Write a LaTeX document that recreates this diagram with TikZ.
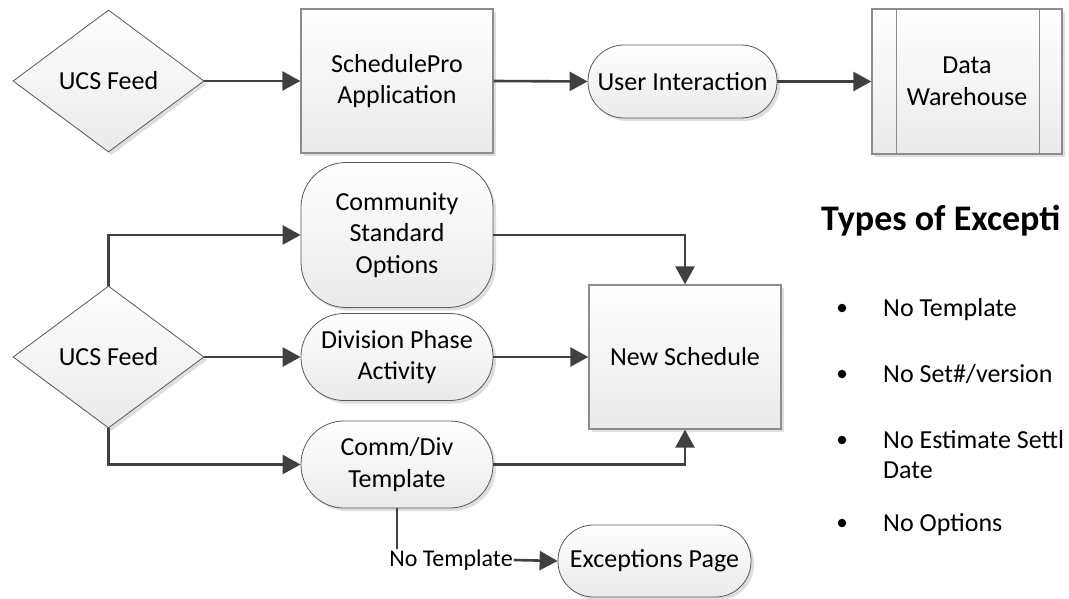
\documentclass[tikz,border=0pt]{standalone}
\usepackage{fontspec}
\setmainfont{Carlito}
\usetikzlibrary{shapes.geometric,arrows.meta,shadows}

\definecolor{linegray}{HTML}{404040}
\definecolor{boxedge}{HTML}{8C8C8C}
\definecolor{termedge}{HTML}{595959}
\definecolor{shadefill}{HTML}{EAEAEA}

\tikzset{
  base/.style={font=\fontsize{26}{31.5}\selectfont, align=center, inner sep=0pt,
    drop shadow={shadow xshift=3pt, shadow yshift=-3pt, fill=black, opacity=0.13},
    top color=white, bottom color=shadefill},
  procbox/.style={base, rectangle, draw=boxedge, line width=1.3pt,
    minimum width=192pt, minimum height=144pt},
  decision/.style={base, diamond, draw=termedge, line width=0.8pt,
    minimum width=191pt, minimum height=142pt, aspect=1.345},
  terminal/.style={base, rectangle, draw=termedge, line width=0.8pt},
  flow/.style={draw=linegray, line width=2.6pt, -{Triangle[length=18pt,width=19pt]}},
  plainline/.style={draw=linegray, line width=2.6pt},
  edgelabel/.style={font=\fontsize{24}{28}\selectfont, inner sep=1pt},
  listtext/.style={font=\fontsize{26}{31}\selectfont, inner sep=0pt, anchor=base west},
  bullet/.style={circle, fill=black, inner sep=0pt, minimum size=8.5pt},
}

\begin{document}
\begin{tikzpicture}[x=1pt, y=-1pt]
\useasboundingbox (0,0) rectangle (1069,599);
\clip (0,0) rectangle (1069,599);

% top flow
\node[decision] (d1) at (108.5,81) {UCS Feed};
\node[procbox] (sp) at (397,81) {SchedulePro\\Application};
\node[terminal, minimum width=189pt, minimum height=73pt, rounded corners=36pt] (ui) at (682.5,81.5) {User Interaction};
\node[procbox, minimum width=190pt, minimum height=145pt] (dw) at (967,81.5) {Data\\Warehouse};
\draw[boxedge, line width=1.3pt] ([xshift=25pt]dw.north west) -- ([xshift=25pt]dw.south west);
\draw[boxedge, line width=1.3pt] ([xshift=-23pt]dw.north east) -- ([xshift=-23pt]dw.south east);

\draw[flow] (d1.east) -- (sp.west);
\draw[flow] (sp.east) -- (ui.west);
\draw[flow] (ui.east) -- (dw.west);

% lower flow
\node[decision] (d2) at (108.5,357) {UCS Feed};
\node[terminal, minimum width=192pt, minimum height=145pt, rounded corners=45pt] (cso) at (397,235) {Community\\Standard\\Options};
\node[terminal, minimum width=192pt, minimum height=87pt, rounded corners=43pt] (dpa) at (397,357) {Division Phase\\Activity};
\node[terminal, minimum width=192pt, minimum height=87pt, rounded corners=43pt] (cdt) at (397,464.5) {Comm/Div\\Template};
\node[procbox] (ns) at (685,357) {New Schedule};
\node[terminal, minimum width=193pt, minimum height=72pt, rounded corners=35.5pt] (ex) at (654.5,561) {Exceptions Page};
\node[edgelabel] (lbl) at (451,560) {No Template};

\draw[flow] (d2.north) |- (cso.west);
\draw[flow] (d2.east) -- (dpa.west);
\draw[flow] (d2.south) |- (cdt.west);
\draw[flow] (cso.east) -| (ns.north);
\draw[flow] (dpa.east) -- (ns.west);
\draw[flow] (cdt.east) -| (ns.south);
\draw[plainline] (cdt.south) -- (cdt.south |- lbl.north);
\draw[flow] (lbl.east) -- (ex.west);

% list of exception types
\node[font=\fontsize{36}{40}\bfseries\selectfont, inner sep=0pt, anchor=base west] (ttl) at (821,230) {Types of Excepti};
\node[bullet] (b1) at (842,308) {};
\node[listtext] (t1) at (883,316.5) {No Template};
\node[bullet] (b2) at (842,374) {};
\node[listtext] (t2) at (883,382) {No Set\#/version};
\node[bullet] (b3) at (842,440) {};
\node[listtext] (t3) at (883,448) {No Estimate Settl};
\node[listtext] (t3b) at (883,478) {Date};
\node[bullet] (b4) at (842,523) {};
\node[listtext] (t4) at (883,531.5) {No Options};
\end{tikzpicture}
\end{document}
